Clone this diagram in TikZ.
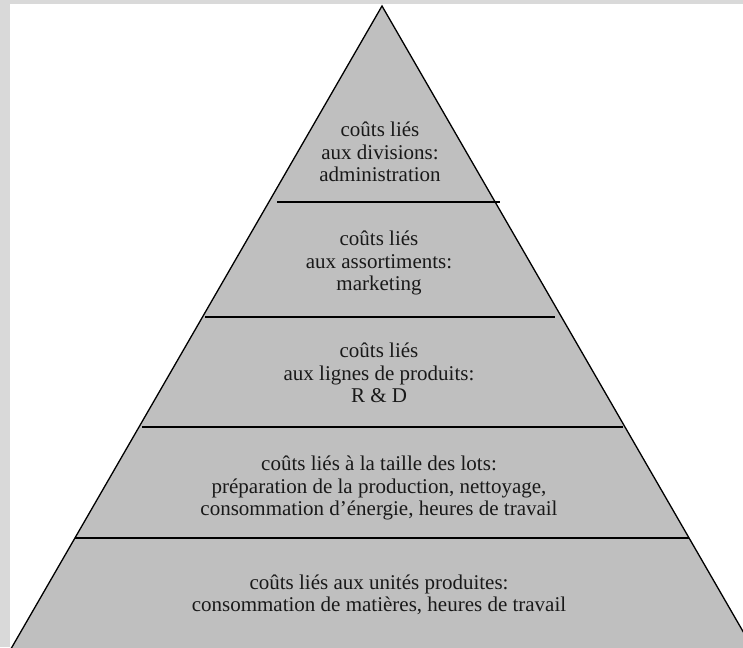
\documentclass[tikz,border=0pt]{standalone}
\usepackage{fontspec}
\setmainfont{Liberation Serif}
\tikzset{
  px/.style={x=1pt,y=-1pt},
  layer/.style={font=\fontsize{21}{22.5}\selectfont, align=center, inner sep=0pt, text=black!90},
  divider/.style={draw=black, line width=2pt}
}
\begin{document}
\begin{tikzpicture}[px]
  % page frame
  \useasboundingbox (0,0) rectangle (743,647);
  \fill[black!15] (0,0) rectangle (743,647);
  \fill[white] (10,4) rectangle (743,647);
  \clip (10,0) rectangle (743,647);
  % pyramid body (base runs just below the page edge)
  \coordinate (apex) at (382,6);
  \coordinate (bl) at (10.3,650);
  \coordinate (br) at (753.7,650);
  \filldraw[fill=black!25, draw=black, line width=1.3pt, line join=miter] (bl) -- (apex) -- (br) -- cycle;
  % level dividers
  \coordinate (d1a) at (277,201.5); \coordinate (d1b) at (500,201.5);
  \coordinate (d2a) at (205,316.5); \coordinate (d2b) at (555,316.5);
  \coordinate (d3a) at (142,427);   \coordinate (d3b) at (623,427);
  \coordinate (d4a) at (75,538);    \coordinate (d4b) at (689,538);
  \draw[divider] (d1a) -- (d1b);
  \draw[divider] (d2a) -- (d2b);
  \draw[divider] (d3a) -- (d3b);
  \draw[divider] (d4a) -- (d4b);
  % level labels
  \node[layer] (l1) at (380,152) {coûts liés\\aux divisions:\\administration};
  \node[layer] (l2) at (379,263) {coûts liés\\aux assortiments:\\marketing};
  \node[layer] (l3) at (379,373) {coûts liés\\aux lignes de produits:\\R \& D};
  \node[layer] (l4) at (379,488) {coûts liés à la taille des lots:\\préparation de la production, nettoyage,\\consommation d’énergie, heures de travail};
  \node[layer] (l5) at (379,595) {coûts liés aux unités produites:\\consommation de matières, heures de travail};
\end{tikzpicture}
\end{document}
